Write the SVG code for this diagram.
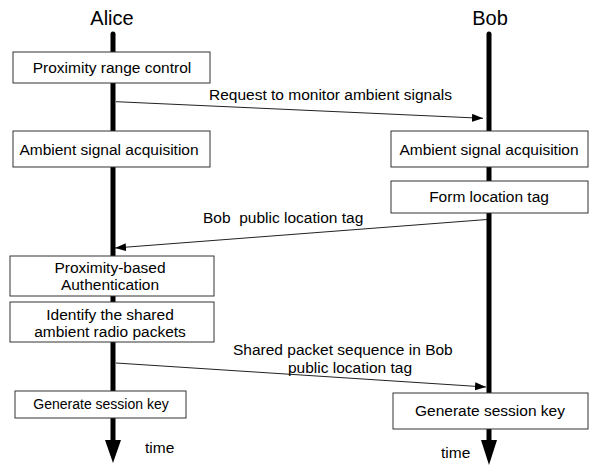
<svg xmlns="http://www.w3.org/2000/svg" width="598" height="465" viewBox="0 0 598 465">
<style>
text{font-family:"Liberation Sans",Arial,Helvetica,sans-serif;fill:#000}
.t{font-size:15.5px;text-anchor:middle}
.h{font-size:20px;text-anchor:middle}
.l{font-size:15.5px}
.box{fill:#fff;stroke:#333;stroke-width:1}
.life{stroke:#000;stroke-width:5;stroke-linecap:round;fill:none}
.msg{stroke:#222;stroke-width:1;fill:none}
</style>
<defs>
<marker id="ah" markerUnits="userSpaceOnUse" markerWidth="12" markerHeight="10" refX="11" refY="4" orient="auto">
<path d="M0,0 L11,4 L0,8 Z" fill="#000"/>
</marker>
</defs>
<g id="lifelines">
<g id="alice-line">
<text class="h" x="112" y="25">Alice</text>
<line class="life" x1="113" y1="34" x2="113" y2="441"/>
<path d="M105,440 L121,440 L113,463 Z" fill="#000"/>
<text class="l" x="145" y="453">time</text>
</g>
<g id="bob-line">
<text class="h" x="490" y="25">Bob</text>
<line class="life" x1="489" y1="34" x2="489" y2="441"/>
<path d="M481,440 L497,440 L489,465 Z" fill="#000"/>
<text class="l" x="441" y="458">time</text>
</g>
</g>
<g id="connectors">
<line class="msg" x1="116" y1="101.7" x2="483" y2="118.3" marker-end="url(#ah)"/>
<text class="l" x="209" y="100">Request to monitor ambient signals</text>
<line class="msg" x1="487" y1="219.5" x2="115" y2="248" marker-end="url(#ah)"/>
<text class="l" x="203" y="223" xml:space="preserve">Bob  public location tag</text>
<line class="msg" x1="116" y1="363" x2="486" y2="387" marker-end="url(#ah)"/>
<text class="l" x="233" y="355">Shared packet sequence in Bob</text>
<text class="l" x="288" y="373">public location tag</text>
</g>
<g id="alice-range">
<rect class="box" x="13" y="52" width="197" height="31"/>
<text class="t" x="112" y="73">Proximity range control</text>
</g>
<g id="alice-acq">
<rect class="box" x="13" y="131" width="197" height="36"/>
<text class="t" x="109" y="155">Ambient signal acquisition</text>
</g>
<g id="bob-acq">
<rect class="box" x="391" y="131" width="197" height="36"/>
<text class="t" x="489" y="155">Ambient signal acquisition</text>
</g>
<g id="bob-tag">
<rect class="box" x="391" y="181" width="197" height="32"/>
<text class="t" x="489" y="202">Form location tag</text>
</g>
<g id="alice-auth">
<rect class="box" x="10" y="256" width="204" height="40"/>
<text class="t" x="110" y="273">Proximity-based</text>
<text class="t" x="110" y="290">Authentication</text>
</g>
<g id="alice-identify">
<rect class="box" x="10" y="302" width="204" height="40"/>
<text class="t" x="110" y="320">Identify the shared</text>
<text class="t" x="110" y="337">ambient radio packets</text>
</g>
<g id="alice-key">
<rect class="box" x="15" y="391" width="171" height="27"/>
<text class="t" x="101" y="409" style="font-size:14px">Generate session key</text>
</g>
<g id="bob-key">
<rect class="box" x="393" y="393" width="195" height="36"/>
<text class="t" x="490" y="416">Generate session key</text>
</g>
</svg>
